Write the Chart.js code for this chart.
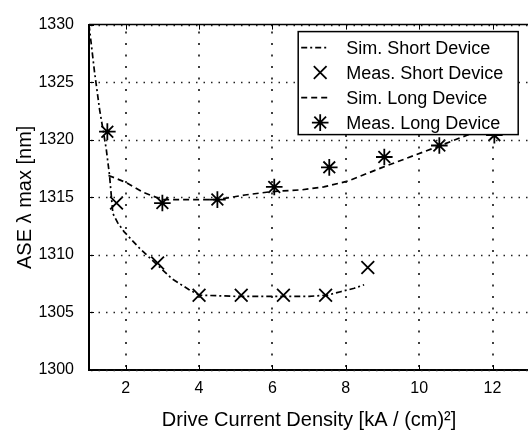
<!DOCTYPE html>
<html lang="en">
<head>
<meta charset="UTF-8">
<title>ASE peak wavelength</title>
<script src="https://cdn.jsdelivr.net/npm/chart.js@4.4.1/dist/chart.umd.min.js"></script>
<style>
  html, body { margin: 0; padding: 0; overflow: hidden; background: #fff; }
  canvas { display: block; }
</style>
</head>
<body>
<canvas id="myChart" width="540" height="432"></canvas>
<script>
// values
const simShortX = [1.0, 1.15, 1.29, 1.47, 1.56, 1.65, 1.78, 1.96, 2.37, 2.87, 3.27, 3.72, 4.0, 5.0, 6.0, 7.0, 7.5, 7.86, 8.23, 8.5];
const simShortY = [1330, 1325.9, 1322.6, 1319.2, 1316.9, 1313.6, 1312.8, 1312.0, 1310.6, 1309.1, 1307.9, 1307.0, 1306.5, 1306.4, 1306.4, 1306.4, 1306.5, 1306.8, 1307.1, 1307.4];

const measShortX = [1.75, 2.87, 4.0, 5.15, 6.3, 7.45, 8.6];
const measShortY = [1314.5, 1309.3, 1306.5, 1306.5, 1306.5, 1306.5, 1308.9];

const simLongX = [1.53, 2.0, 2.5, 3.0, 4.5, 5.25, 6.0, 6.8, 7.4, 8.05, 9.0, 10.5, 11.55, 12.5];
const simLongY = [1316.9, 1316.3, 1315.4, 1314.8, 1314.8, 1315.2, 1315.5, 1315.65, 1315.9, 1316.4, 1317.6, 1319.4, 1320.7, 1321.9];

const measLongX = [1.5, 3.0, 4.5, 6.05, 7.55, 9.05, 10.55, 12.05];
const measLongY = [1320.7, 1314.5, 1314.8, 1315.9, 1317.6, 1318.5, 1319.5, 1320.4];

const xTicks = [2, 4, 6, 8, 10, 12];
const yTicks = [1300, 1305, 1310, 1315, 1320, 1325, 1330];

const FONT = '"Liberation Sans", Arial, Helvetica, sans-serif';

function pts(xs, ys) {
  return xs.map((x, i) => ({ x: x, y: ys[i] }));
}

// dotted grid + top border + inward ticks (matlab look)
const frameGrid = {
  id: 'frameGrid',
  afterDatasetsDraw(chart) {
    const ctx = chart.ctx, a = chart.chartArea;
    const sx = chart.scales.x, sy = chart.scales.y;
    ctx.save();
    ctx.strokeStyle = '#111';
    ctx.lineWidth = 1.6;
    ctx.setLineDash([2, 9.5]);
    ctx.beginPath();
    xTicks.forEach(v => {
      const px = Math.round(sx.getPixelForValue(v));
      ctx.moveTo(px, a.bottom - 3); ctx.lineTo(px, a.top);
    });
    ctx.stroke();
    ctx.strokeStyle = '#222';
    ctx.lineWidth = 1.3;
    ctx.setLineDash([1.5, 6]);
    ctx.beginPath();
    yTicks.forEach(v => {
      const py = Math.round(sy.getPixelForValue(v)) + 0.5;
      ctx.moveTo(a.left + 2, py); ctx.lineTo(a.right, py);
    });
    ctx.stroke();
    ctx.setLineDash([]);

    ctx.strokeStyle = '#000';
    ctx.lineWidth = 1.5;
    ctx.beginPath();
    ctx.moveTo(a.left, a.top);
    ctx.lineTo(a.right, a.top);
    ctx.stroke();
    ctx.lineWidth = 1;
    ctx.beginPath();
    xTicks.forEach(v => {
      const px = Math.round(sx.getPixelForValue(v)) + 0.5;
      ctx.moveTo(px, a.bottom); ctx.lineTo(px, a.bottom - 5);
      ctx.moveTo(px, a.top); ctx.lineTo(px, a.top + 5);
    });
    yTicks.forEach(v => {
      const py = Math.round(sy.getPixelForValue(v)) + 0.5;
      ctx.moveTo(a.left, py); ctx.lineTo(a.left + 5, py);
    });
    ctx.stroke();
    ctx.restore();
  }
};

// boxed legend, top right
const boxLegend = {
  id: 'boxLegend',
  afterDraw(chart) {
    const ctx = chart.ctx, a = chart.chartArea;
    const x0 = a.right - 231, y0 = a.top + 7, w = 220, h = 103;
    ctx.save();
    ctx.fillStyle = '#fff';
    ctx.fillRect(x0, y0, w, h);
    ctx.strokeStyle = '#000';
    ctx.lineWidth = 1.5;
    ctx.strokeRect(x0, y0, w, h);
    ctx.font = '18px ' + FONT;
    ctx.textBaseline = 'middle';
    ctx.fillStyle = '#000';
    chart.data.datasets.forEach((ds, i) => {
      const cy = y0 + 16 + i * 25;
      if (ds.showLine) {
        ctx.lineWidth = ds.borderWidth;
        ctx.setLineDash(ds.borderDash);
        ctx.beginPath();
        ctx.moveTo(x0 + 3, cy);
        ctx.lineTo(x0 + 30, cy);
        ctx.stroke();
        ctx.setLineDash([]);
      } else {
        ctx.lineWidth = ds.pointBorderWidth;
        Chart.helpers.drawPoint(ctx, {
          pointStyle: ds.pointStyle, radius: ds.pointRadius,
          borderWidth: ds.pointBorderWidth, rotation: 0
        }, x0 + 22, cy);
      }
      ctx.fillText(ds.label, x0 + 48, cy + 1);
    });
    ctx.restore();
  }
};

new Chart(document.getElementById('myChart'), {
  type: 'scatter',
  data: {
    datasets: [
      {
        label: 'Sim. Short Device', data: pts(simShortX, simShortY),
        showLine: true, borderColor: '#000', borderWidth: 1.7,
        borderDash: [6, 3, 2, 3], pointRadius: 0, tension: 0
      },
      {
        label: 'Meas. Short Device', data: pts(measShortX, measShortY),
        showLine: false, pointStyle: 'crossRot', pointRadius: 9,
        pointBorderWidth: 1.8, borderColor: '#000', backgroundColor: 'transparent'
      },
      {
        label: 'Sim. Long Device', data: pts(simLongX, simLongY),
        showLine: true, borderColor: '#000', borderWidth: 1.7,
        borderDash: [6, 4], pointRadius: 0, tension: 0
      },
      {
        label: 'Meas. Long Device', data: pts(measLongX, measLongY),
        showLine: false, pointStyle: 'star', pointRadius: 8.3,
        pointBorderWidth: 1.8, borderColor: '#000', backgroundColor: 'transparent'
      }
    ]
  },
  options: {
    responsive: false,
    animation: false,
    layout: { padding: { top: 11, right: 5, left: 0, bottom: 0 } },
    plugins: { legend: { display: false }, tooltip: { enabled: false } },
    scales: {
      x: {
        type: 'linear', min: 1, max: 13,
        afterBuildTicks: s => { s.ticks = xTicks.map(v => ({ value: v })); },
        afterFit: s => { s.height = 62; },
        grid: { display: false, drawTicks: false },
        border: { display: true, color: '#000', width: 2 },
        ticks: {
          color: '#000', font: { family: FONT, size: 16 }, padding: 9,
          callback: v => String(v)
        },
        title: {
          display: true, text: 'Drive Current Density [kA / (cm)²]',
          color: '#000', font: { family: FONT, size: 20 }, padding: { top: 1, bottom: 0 }
        }
      },
      y: {
        type: 'linear', min: 1300, max: 1330,
        afterBuildTicks: s => { s.ticks = yTicks.map(v => ({ value: v })); },
        afterFit: s => { s.width = 89; },
        grid: { display: false, drawTicks: false },
        border: { display: true, color: '#000', width: 2 },
        ticks: {
          color: '#000', font: { family: FONT, size: 16 }, padding: 15,
          callback: v => String(v)
        },
        title: {
          display: true, text: 'ASE λ max [nm]',
          color: '#000', font: { family: FONT, size: 20 }, padding: { top: 13, bottom: 0 }
        }
      }
    }
  },
  plugins: [frameGrid, boxLegend]
});
</script>
</body>
</html>
